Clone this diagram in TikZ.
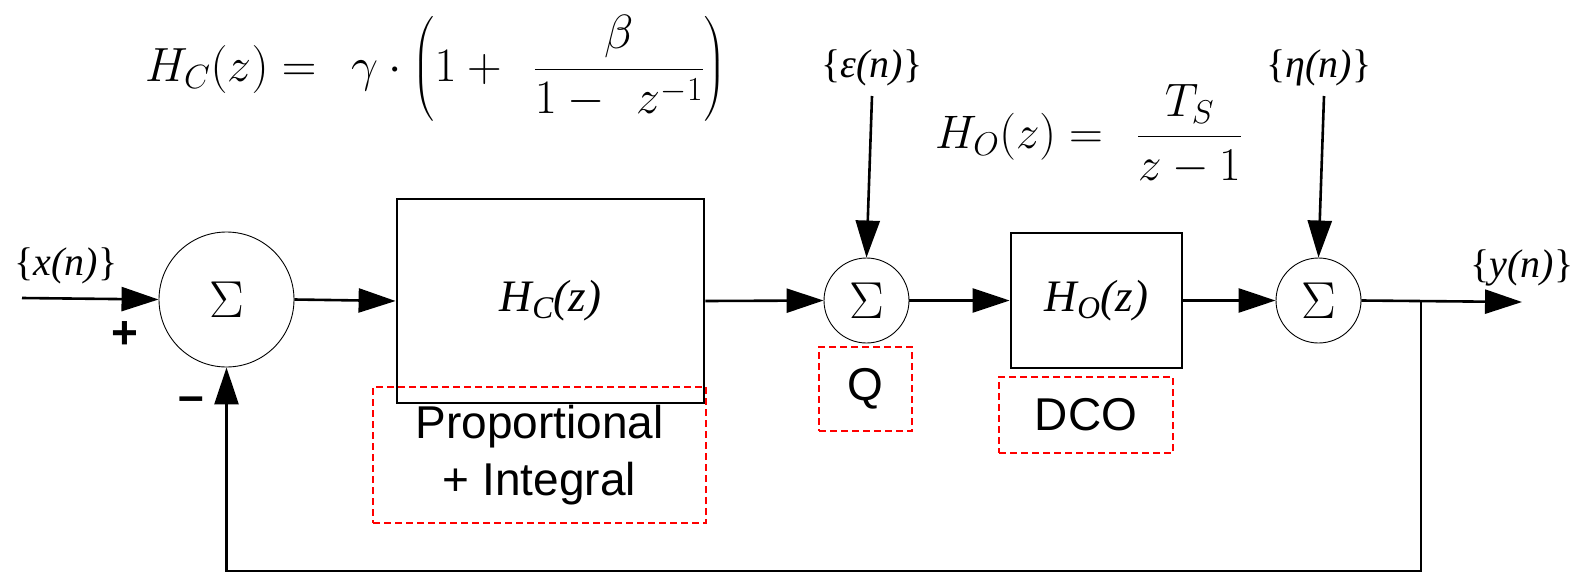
\RequirePackage{fix-cm}
\documentclass[tikz,border=0pt]{standalone}
\usepackage{amsmath}
\usepackage{fontspec}
\usetikzlibrary{arrows.meta}
\newfontfamily\arialf{Liberation Sans}
\newfontfamily\timesf{Liberation Serif}
\begin{document}
\begin{tikzpicture}[x=1pt,y=-1pt,
  conn/.style={line width=2.6pt,-{Triangle[length=37pt,width=24pt]}},
  sumnode/.style={circle,draw,line width=0.9pt,inner sep=0pt,
    font=\fontsize{52}{60}\selectfont},
  blk/.style={draw,line width=2.8pt,inner sep=0pt,
    font=\fontsize{45}{50}\selectfont\timesf\itshape},
  redbox/.style={draw=red,line width=1.6pt,dash pattern=on 7pt off 4pt,inner sep=0pt,
    align=center,font=\fontsize{46}{57}\selectfont\arialf},
  sig/.style={inner sep=2pt,font=\fontsize{40}{46}\selectfont\timesf},
  sign/.style={inner sep=0pt,font=\fontsize{46}{50}\selectfont\arialf\bfseries},
  formula/.style={inner sep=0pt,anchor=base west,font=\fontsize{48}{56}\selectfont},
]
\useasboundingbox (0,0) rectangle (1576,573);

% formulas
\node[formula] (hcf) at (145,81)
  {$H_C(z) =\;\, \gamma\cdot\left(1+\;\,\dfrac{\beta}{1-\;\, z^{-1}}\right)$};
\node[formula,font=\fontsize{47}{56}\selectfont] (hof) at (935,148)
  {$H_O(z) =\;\, \dfrac{T_S}{z-1}$};

% blocks
\node[sumnode,minimum size=135pt] (s1) at (226.5,299.5) {$\Sigma$};
\node[blk,minimum width=307pt,minimum height=204pt] (hc) at (550.5,301)
  {H\textsubscript{C}(z)};
\node[sumnode,minimum size=85pt] (s2) at (866.5,300.5) {$\Sigma$};
\node[blk,minimum width=171pt,minimum height=135pt] (ho) at (1096.5,300.5)
  {H\textsubscript{O}(z)};
\node[sumnode,minimum size=85pt] (s3) at (1318.5,300.5) {$\Sigma$};

% dashed labels
\node[redbox,minimum width=333pt,minimum height=136pt] (pi) at (539.5,455)
  {Proportional\\+ Integral};
\node[redbox,minimum width=93pt,minimum height=84pt] (q) at (865.5,389) {Q};
\node[redbox,minimum width=174pt,minimum height=76pt] (dco) at (1086,415) {DCO};

% signals
\node[sig] (x) at (66,266) {\{\textit{x(n)}\}};
\node[sig] (eps) at (872,68) {\{\textit{ε(n)}\}};
\node[sig] (eta) at (1319,68) {\{\textit{η(n)}\}};
\node[sig] (y) at (1522,268) {\{\textit{y(n)}\}};
\node[sign] (plus) at (125,335) {+};
\node[sign] (minus) at (191,404) {–};

\coordinate (xin) at (22,298);
\coordinate (epstop) at (872,96);
\coordinate (etatop) at (1324,96);
\coordinate (tap) at (1421,302);
\coordinate (yend) at (1522,302);
\coordinate (fbc) at (1421,571);

% connectors
\draw[conn] (xin) -- (s1.west);
\draw[conn] (s1.east) -- (hc.west);
\draw[conn] (hc.east) -- (s2.west);
\draw[conn] (s2.east) -- (ho.west);
\draw[conn] (ho.east) -- (s3.west);
\draw[conn] (epstop) -- (s2.north);
\draw[conn] (etatop) -- (s3.north);
\draw[conn] (s3.east) -- (yend);
\draw[conn] (tap) -- (fbc) -| (s1.south);
\end{tikzpicture}
\end{document}
